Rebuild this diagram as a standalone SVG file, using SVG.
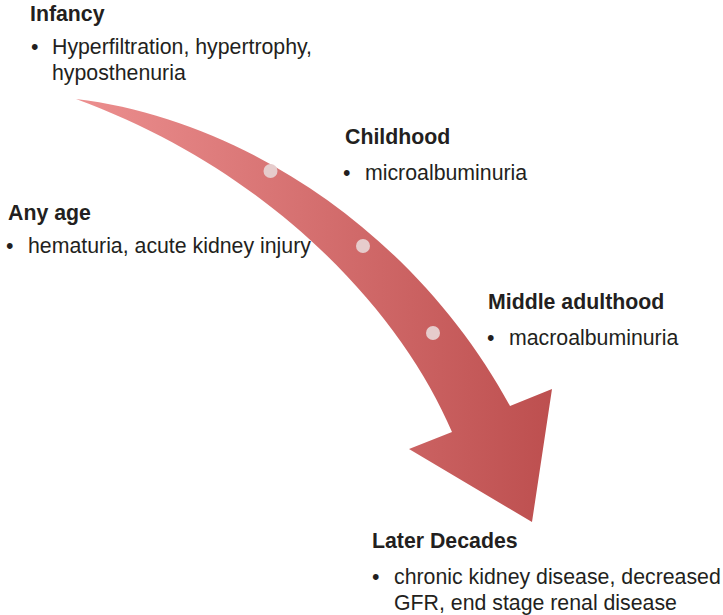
<svg xmlns="http://www.w3.org/2000/svg" width="723" height="615" viewBox="0 0 723 615">
<defs>
<linearGradient id="g" x1="76" y1="0" x2="552" y2="0" gradientUnits="userSpaceOnUse">
<stop offset="0" stop-color="#ec8f8f"/>
<stop offset="1" stop-color="#bd4f4f"/>
</linearGradient>
</defs>
<style>
text{font-family:"Liberation Sans",Arial,Helvetica,sans-serif;font-size:21.3px;fill:#231f20}
.h{font-weight:bold}
.dot{fill:#e6cccc}
</style>
<rect width="723" height="615" fill="#ffffff"/>
<g id="connectors">
<path id="arrow" fill="url(#g)" d="M76,99 C250,120 420,240 510,406 L552,389 L532,522 L409,449 L452,432 C400,310 270,170 76,99 Z"/>
<circle class="dot" cx="270.5" cy="171" r="7"/>
<circle class="dot" cx="363" cy="246" r="7"/>
<circle class="dot" cx="433" cy="333" r="7"/>
</g>
<g id="infancy">
<text class="h" x="30" y="21">Infancy</text>
<text x="31" y="54">•</text>
<text x="52" y="54">Hyperfiltration, hypertrophy,</text>
<text x="52" y="80">hyposthenuria</text>
</g>
<g id="childhood">
<text class="h" x="345" y="144">Childhood</text>
<text x="343" y="180">•</text>
<text x="365" y="180">microalbuminuria</text>
</g>
<g id="anyage">
<text class="h" x="8" y="220">Any age</text>
<text x="6" y="253">•</text>
<text x="28" y="253">hematuria, acute kidney injury</text>
</g>
<g id="middle">
<text class="h" x="488" y="309">Middle adulthood</text>
<text x="487" y="345">•</text>
<text x="509" y="345">macroalbuminuria</text>
</g>
<g id="later">
<text class="h" x="372" y="548">Later Decades</text>
<text x="372" y="584">•</text>
<text x="394" y="584">chronic kidney disease, decreased</text>
<text x="394" y="610">GFR, end stage renal disease</text>
</g>
</svg>
